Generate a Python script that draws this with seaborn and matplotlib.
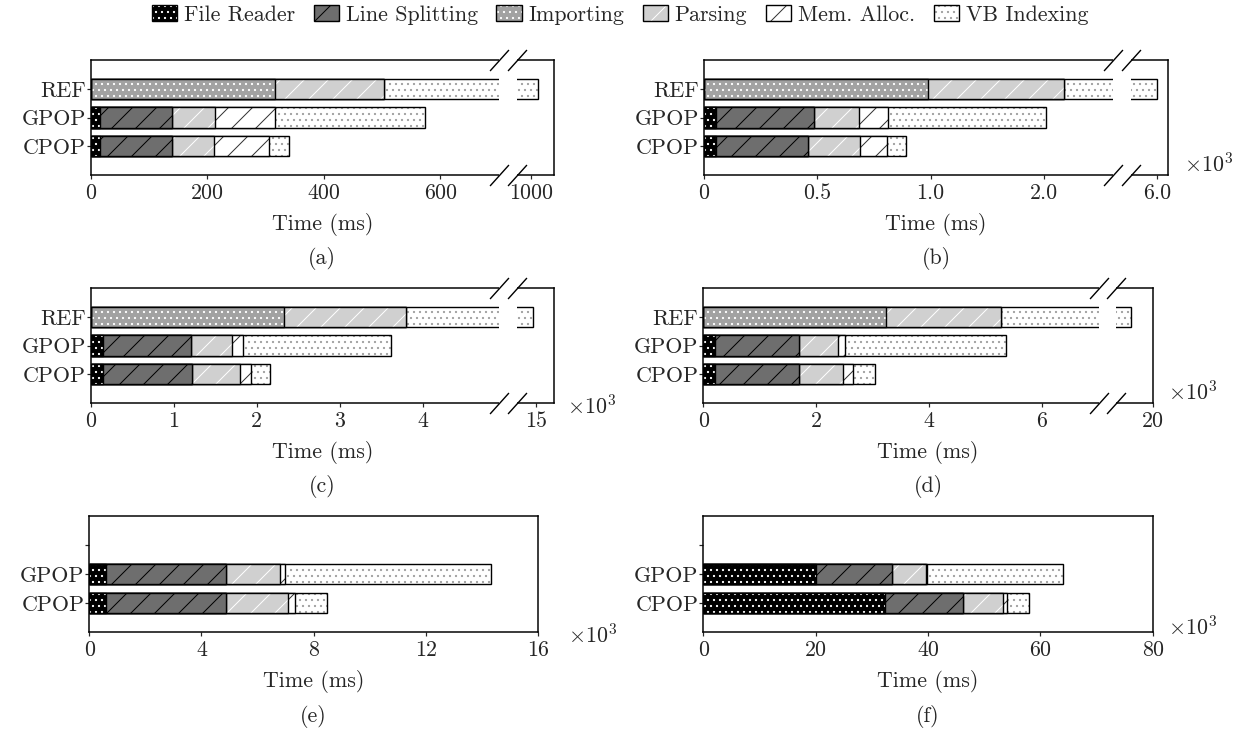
import numpy as np
import pandas as pd
import seaborn as sns
import matplotlib.pyplot as plt
from matplotlib.patches import Patch, Rectangle
from matplotlib.legend_handler import HandlerTuple

segments = ["File Reader", "Line Splitting", "Importing", "Parsing", "Mem. Alloc.", "VB Indexing"]
systems = ["REF", "GPOP", "CPOP"]

# duration of each segment (same order as `segments`)
# (a) in ms, (b)-(f) in 10^3 ms
a_ref = [0, 0, 317, 186, 0, 510]
a_gpop = [16, 123, 0, 75, 103, 257]
a_cpop = [16, 123, 0, 73, 94, 34]

b_ref = [0, 0, 0.99, 0.60, 0, 4.41]
b_gpop = [0.055, 0.43, 0, 0.20, 0.125, 0.70]
b_cpop = [0.055, 0.405, 0, 0.228, 0.118, 0.085]

c_ref = [0, 0, 2.33, 1.47, 0, 11.16]
c_gpop = [0.146, 1.06, 0, 0.50, 0.13, 1.78]
c_cpop = [0.146, 1.07, 0, 0.58, 0.135, 0.23]

d_ref = [0, 0, 3.23, 2.04, 0, 14.35]
d_gpop = [0.21, 1.48, 0, 0.69, 0.14, 2.85]
d_cpop = [0.21, 1.48, 0, 0.79, 0.17, 0.39]

e_gpop = [0.6, 4.27, 0, 1.92, 0.2, 7.32]
e_cpop = [0.6, 4.27, 0, 2.23, 0.24, 1.12]

f_gpop = [20.1, 13.5, 0, 6.0, 0.3, 24.2]
f_cpop = [32.3, 14.0, 0, 7.1, 0.6, 3.9]

a_ticks = [0, 200, 400, 600, 1000]
b_ticks = [0, 0.5, 1.0, 1.5, 6.0]
b_ticklabels = ["0", "0.5", "1.0", "2.0", "6.0"]
c_ticks = [0, 1, 2, 3, 4, 15]
d_ticks = [0, 2, 4, 6, 20]
e_ticks = [0, 4, 8, 12, 16]
f_ticks = [0, 20, 40, 60, 80]

# fill colour, hatch colour, hatch
styles = {
    "File Reader": ("black", "white", ".."),
    "Line Splitting": ("#6e6e6e", "black", "/"),
    "Importing": ("#a2a2a2", "white", ".."),
    "Parsing": ("#d0d0d0", "white", "/"),
    "Mem. Alloc.": ("white", "#333333", "/"),
    "VB Indexing": ("white", "#a0a0a0", ".."),
}

sns.set_style("ticks")
plt.rcParams["font.family"] = ["cmr10", "DejaVu Serif"]
plt.rcParams["mathtext.fontset"] = "cm"
plt.rcParams["axes.unicode_minus"] = False
plt.rcParams["axes.formatter.use_mathtext"] = True
plt.rcParams["hatch.linewidth"] = 1.0

W, H = 1242, 731
FS = 22
fig = plt.figure(figsize=(W / 72, H / 72), dpi=72)


def broken_scale(lo, hi, shift):
    hi_v = hi + shift

    def fwd(v):
        v = np.asarray(v, float)
        mid = lo + (v - lo) * (hi - lo) / (hi_v - lo)
        return np.where(v <= lo, v, np.where(v >= hi_v, v - shift, mid))

    def inv(u):
        u = np.asarray(u, float)
        mid = lo + (u - lo) * (hi_v - lo) / (hi - lo)
        return np.where(u <= lo, u, np.where(u >= hi, u + shift, mid))

    return fwd, inv


def panel(box, rows, names, ticks, ticklabels, xmax, brk=None, tag="", unit=None):
    l, t, r, b = box
    ax = fig.add_axes([l / W, 1 - b / H, (r - l) / W, (b - t) / H])
    shift = 0
    if brk is not None:
        lo, hi, shift = brk
        ax.set_xscale("function", functions=broken_scale(lo, hi, shift))

    cum = np.cumsum(np.array(rows, float), axis=1)
    for k in range(len(segments) - 1, -1, -1):
        fc, hc, h = styles[segments[k]]
        df = pd.DataFrame({"system": names, "end": cum[:, k]})
        sns.barplot(data=df, x="end", y="system", order=systems, orient="y", ax=ax,
                    width=0.7, errorbar=None, color=fc, facecolor=fc, edgecolor=hc,
                    hatch=h, linewidth=0)
        sns.barplot(data=df, x="end", y="system", order=systems, orient="y", ax=ax,
                    width=0.7, errorbar=None, fill=False, color="black", linewidth=1.4)

    ax.set_xlim(0, xmax + shift)
    ax.set_ylim(3, -1)
    ax.set_xticks(ticks)
    ax.set_xticklabels(ticklabels)
    ax.set_yticks([0, 1, 2])
    ax.set_yticklabels(["REF" if "REF" in names else "", "GPOP", "CPOP"])
    ax.set_ylabel("")
    ax.set_xlabel("Time (ms)", fontsize=FS, labelpad=10)
    ax.tick_params(direction="out", length=4, width=1.2, labelsize=FS)
    ax.tick_params(axis="x", pad=4)
    ax.tick_params(axis="y", pad=1)
    for sp in ax.spines.values():
        sp.set_visible(True)
        sp.set_linewidth(1.5)
        sp.set_color("black")

    if brk is not None:
        lo, hi, shift = brk
        trans = ax.get_xaxis_transform()
        ax.add_patch(Rectangle((lo, -0.04), hi + shift - lo, 1.08, transform=trans,
                               facecolor="white", edgecolor="none", clip_on=False, zorder=3))
        ax.plot([lo, hi + shift, lo, hi + shift], [0, 0, 1, 1], transform=trans,
                marker=[(-0.9, -1), (0.9, 1)], markersize=21, linestyle="none",
                color="black", mec="black", mew=1.4, clip_on=False, zorder=4)

    fig.text((l + r) / 2 / W, 1 - (b + 84) / H, tag, ha="center", va="center", fontsize=FS)
    if unit is not None:
        fig.text(unit[0] / W, 1 - unit[1] / H, r"$\times10^3$", ha="left", va="center",
                 fontsize=FS)
    return ax


panel((90.7, 60, 554, 175), [a_ref, a_gpop, a_cpop], systems, a_ticks,
      [str(v) for v in a_ticks], 795, brk=(701, 731, 245), tag="(a)")
panel((704, 60, 1168, 175), [b_ref, b_gpop, b_cpop], systems, b_ticks,
      b_ticklabels, 2.047, brk=(1.805, 1.884, 4.0), tag="(b)", unit=(1184, 164))
panel((90.7, 288, 554, 403), [c_ref, c_gpop, c_cpop], systems, c_ticks,
      [str(v) for v in c_ticks], 5.58, brk=(4.92, 5.13, 9.635), tag="(c)", unit=(567, 406))
panel((703.3, 288, 1152.7, 403), [d_ref, d_gpop, d_cpop], systems, d_ticks,
      [str(v) for v in d_ticks], 7.96, brk=(7.01, 7.32, 12.035), tag="(d)", unit=(1168, 392))
panel((89.3, 516, 538, 632), [e_gpop, e_cpop], ["GPOP", "CPOP"], e_ticks,
      [str(v) for v in e_ticks], 16, tag="(e)", unit=(568, 635))
panel((703.3, 516, 1152.7, 632), [f_gpop, f_cpop], ["GPOP", "CPOP"], f_ticks,
      [str(v) for v in f_ticks], 80, tag="(f)", unit=(1168, 627))

handles = []
for s in segments:
    fc, hc, h = styles[s]
    handles.append((Patch(facecolor=fc, edgecolor=hc, hatch=h, linewidth=0),
                    Patch(facecolor="none", edgecolor="black", linewidth=1.4)))
fig.legend(handles, segments, handler_map={tuple: HandlerTuple(ndivide=1, pad=0)},
           loc="center", bbox_to_anchor=(620 / W, 1 - 15 / H), ncol=6, frameon=False,
           handlelength=1.15, handleheight=0.75, handletextpad=0.3, columnspacing=0.85,
           fontsize=FS, borderaxespad=0)

fig.savefig("out.png", dpi=72)
